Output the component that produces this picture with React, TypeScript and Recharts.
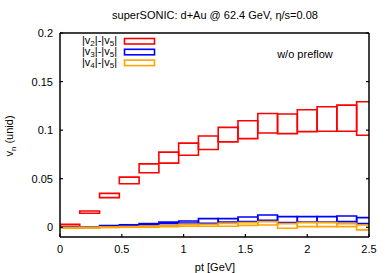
import React from 'react';
import { ComposedChart, XAxis, YAxis, ReferenceArea } from 'recharts';

const ptLow = [0, 0.16, 0.32, 0.48, 0.64, 0.8, 0.96, 1.12, 1.28, 1.44, 1.6, 1.76, 1.92, 2.08, 2.24, 2.4];
const ptHigh = [0.16, 0.32, 0.48, 0.64, 0.8, 0.96, 1.12, 1.28, 1.44, 1.6, 1.76, 1.92, 2.08, 2.24, 2.4, 2.56];

const v2Low = [0.0007, 0.0144, 0.0305, 0.0448, 0.0561, 0.066, 0.0742, 0.08, 0.0879, 0.0913, 0.0971, 0.0964, 0.0985, 0.0988, 0.0988, 0.0947];
const v2High = [0.003, 0.0167, 0.0349, 0.0516, 0.0653, 0.0774, 0.0866, 0.094, 0.1029, 0.1097, 0.1172, 0.1166, 0.121, 0.1241, 0.1258, 0.1292];

const v3Low = [-0.0005, -0.0003, 0.0012, 0.0018, 0.0025, 0.0038, 0.0044, 0.0041, 0.0054, 0.0058, 0.0072, 0.0048, 0.0055, 0.0055, 0.0058, 0.0038];
const v3High = [0.0005, 0.0003, 0.0018, 0.0026, 0.0038, 0.0054, 0.0064, 0.0089, 0.0089, 0.0106, 0.0126, 0.011, 0.011, 0.011, 0.0116, 0.0099];

const v4Low = [-0.001, -0.0008, -0.0003, 0.0, 0.0, 0.0006, 0.001, 0.001, 0.001, 0.002, 0.0024, -0.001, 0.0007, 0.0007, 0.0007, -0.0027];
const v4High = [0.0, 0.0, 0.0004, 0.0008, 0.0012, 0.0018, 0.003, 0.0032, 0.004, 0.0048, 0.0058, 0.0038, 0.0048, 0.0048, 0.0038, 0.0024];

const xTicks = [0, 0.5, 1, 1.5, 2, 2.5];
const yTicks = [0, 0.05, 0.1, 0.15, 0.2];

const FONT = '"Liberation Sans", Arial, sans-serif';
const FS = 11;

const BottomTick = (props: any) => {
  const { x, y, payload } = props;
  return (
    <g>
      <line x1={x} x2={x} y1={y} y2={y - 3} stroke="#000" strokeWidth={1.2} />
      <text x={x} y={y + 12} textAnchor="middle" dominantBaseline="central" fontSize={FS} fontFamily={FONT} fill="#000">
        {String(payload.value)}
      </text>
    </g>
  );
};
const TopTick = (props: any) => {
  const { x, y } = props;
  return <line x1={x} x2={x} y1={y} y2={y + 3} stroke="#000" strokeWidth={1.2} />;
};
const LeftTick = (props: any) => {
  const { x, y, payload } = props;
  return (
    <g>
      <line x1={x} x2={x + 3} y1={y} y2={y} stroke="#000" strokeWidth={1.2} />
      <text x={x - 7} y={y} textAnchor="end" dominantBaseline="central" fontSize={FS} fontFamily={FONT} fill="#000">
        {String(payload.value)}
      </text>
    </g>
  );
};
const RightTick = (props: any) => {
  const { x, y } = props;
  return <line x1={x} x2={x - 3} y1={y} y2={y} stroke="#000" strokeWidth={1.2} />;
};

const series = [
  { name: '2', low: v2Low, high: v2High, color: '#ff0000' },
  { name: '3', low: v3Low, high: v3High, color: '#0000ff' },
  { name: '4', low: v4Low, high: v4High, color: '#ffa500' },
];

export default function App() {
  return (
    <div style={{ position: 'absolute', left: 0, top: 0, width: 390, height: 273, background: '#fff' }}>
      <ComposedChart width={390} height={273} margin={{ top: 32, right: 20, bottom: 0, left: 0 }}>
        <XAxis xAxisId={0} type="number" dataKey="x" domain={[0, 2.5]} ticks={xTicks} allowDataOverflow
          height={36} tickSize={0} tickMargin={0} tickLine={false} tick={<BottomTick />}
          axisLine={{ stroke: '#000', strokeWidth: 1.5 }} interval={0} />
        <XAxis xAxisId="top" orientation="top" type="number" domain={[0, 2.5]} ticks={xTicks} allowDataOverflow
          height={1} tickSize={0} tickMargin={0} tickLine={false} tick={<TopTick />}
          axisLine={{ stroke: '#000', strokeWidth: 1.5 }} interval={0} />
        <YAxis yAxisId={0} type="number" domain={[-0.01, 0.2]} ticks={yTicks} allowDataOverflow
          width={60} tickSize={0} tickMargin={0} tickLine={false} tick={<LeftTick />}
          axisLine={{ stroke: '#000', strokeWidth: 1.5 }} interval={0} />
        <YAxis yAxisId="right" orientation="right" type="number" domain={[-0.01, 0.2]} ticks={yTicks} allowDataOverflow
          width={1} tickSize={0} tickMargin={0} tickLine={false} tick={<RightTick />}
          axisLine={{ stroke: '#000', strokeWidth: 1.5 }} interval={0} />
        {series.map((s) =>
          ptLow.map((lo, i) => (
            <ReferenceArea
              key={s.name + '-' + i}
              xAxisId={0}
              yAxisId={0}
              x1={lo}
              x2={ptHigh[i]}
              y1={s.low[i]}
              y2={s.high[i]}
              fill="none"
              fillOpacity={0}
              stroke={s.color}
              strokeWidth={1.6}
              ifOverflow="hidden"
            />
          ))
        )}
      </ComposedChart>
      <svg width={390} height={273} style={{ position: 'absolute', left: 0, top: 0, pointerEvents: 'none' }}>
        <text x={215} y={19} textAnchor="middle" fontSize={FS} fontFamily={FONT} fill="#000">
          superSONIC: d+Au @ 62.4 GeV, η/s=0.08
        </text>
        <text x={215} y={271} textAnchor="middle" fontSize={FS} fontFamily={FONT} fill="#000">pt [GeV]</text>
        <text transform="translate(13,136) rotate(-90)" textAnchor="middle" fontSize={FS} fontFamily={FONT} fill="#000">
          v<tspan fontSize={8} dy={3}>n</tspan><tspan dy={-3}> (unid)</tspan>
        </text>
        <text x={305} y={58} textAnchor="middle" fontSize={FS} fontFamily={FONT} fill="#000">w/o preflow</text>
        {series.map((s, i) => (
          <g key={'leg' + s.name}>
            <text x={117} y={44 + i * 10.8} textAnchor="end" fontSize={FS} fontFamily={FONT} fill="#000">
              |v<tspan fontSize={8} dy={2}>{s.name}</tspan><tspan dy={-2}>|-|v</tspan><tspan fontSize={8} dy={2}>5</tspan><tspan dy={-2}>|</tspan>
            </text>
            <rect x={124.5} y={38.5 + i * 10.8} width={30} height={5.5} fill="none" stroke={s.color} strokeWidth={1.6} />
          </g>
        ))}
      </svg>
    </div>
  );
}
